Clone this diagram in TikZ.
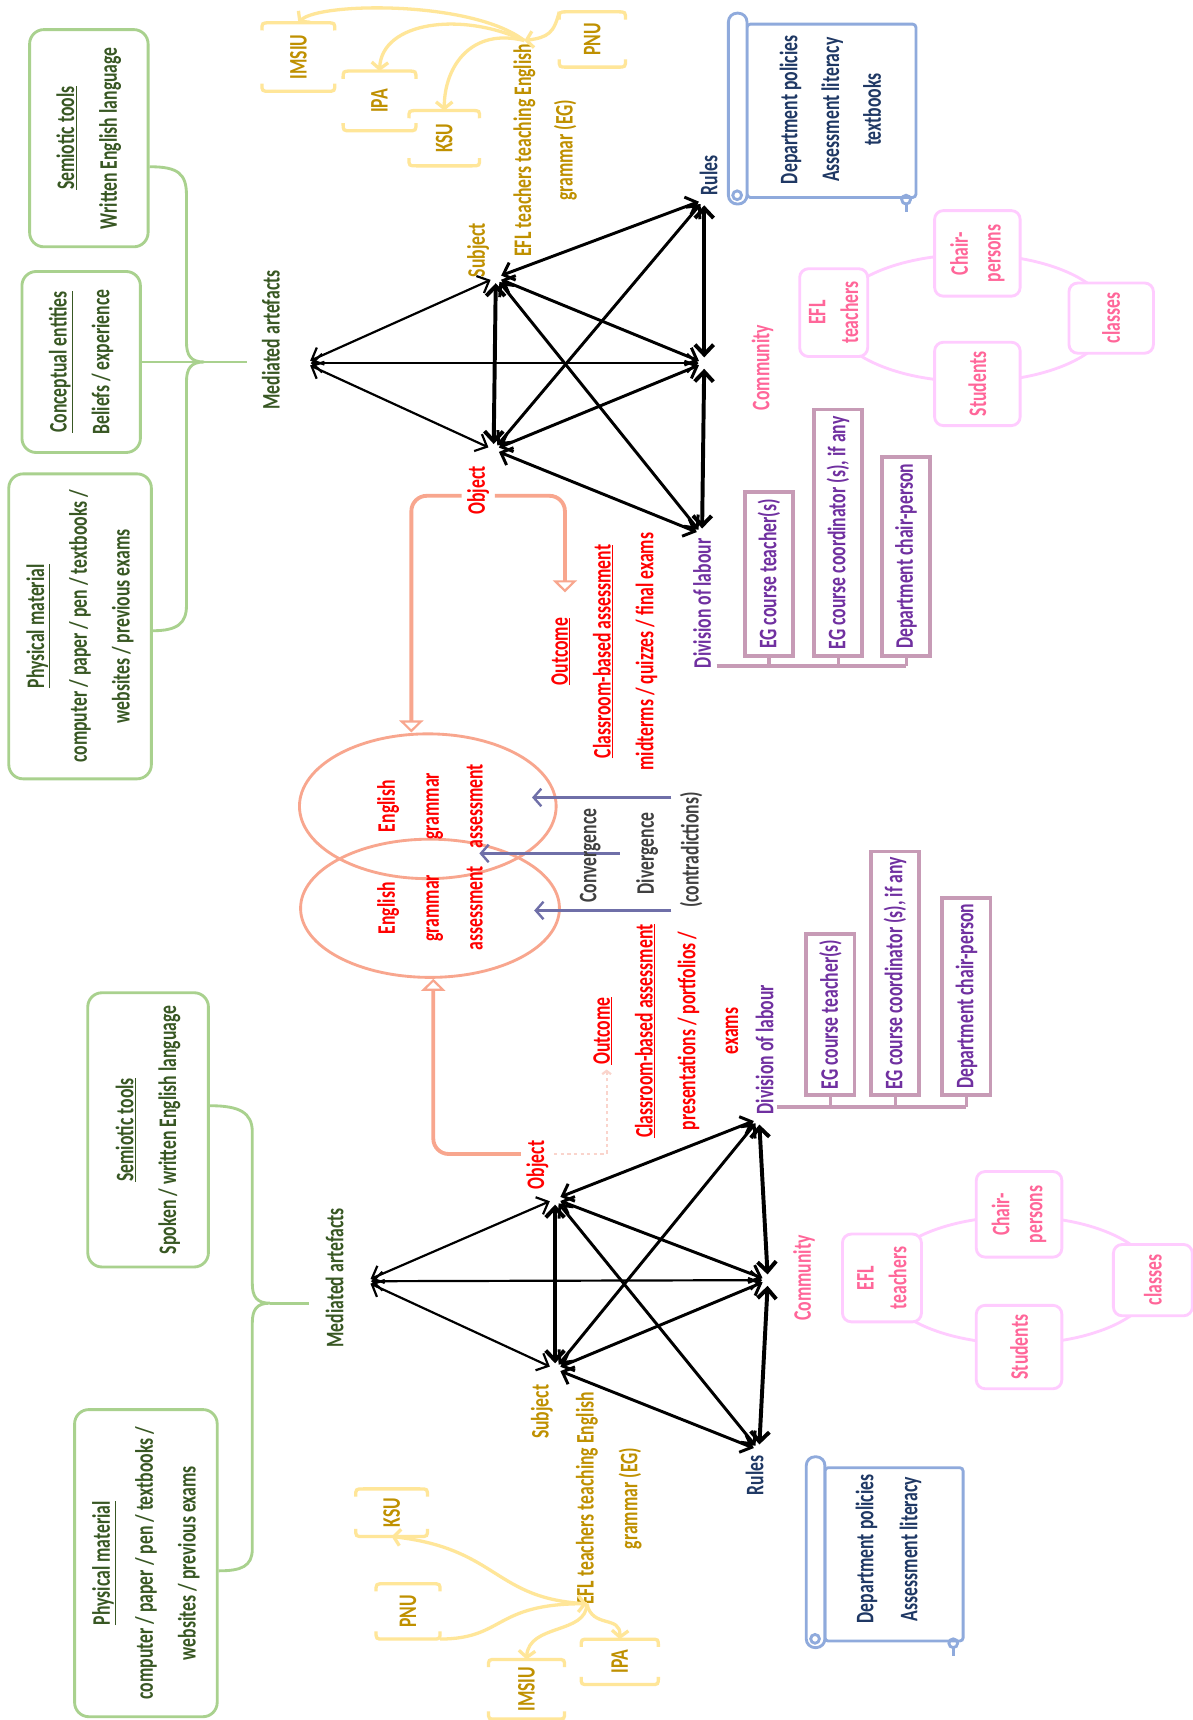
\documentclass[tikz,border=0pt]{standalone}
\usepackage{fontspec}
\setmainfont{Carlito}[FakeStretch=0.70, UprightFont=* Bold, BoldFont=* Bold]
\usetikzlibrary{arrows.meta,calc,shapes.geometric}

\definecolor{grbox}{HTML}{A9D18E}
\definecolor{grtxt}{HTML}{385723}
\definecolor{goldt}{HTML}{BF9000}
\definecolor{yell}{HTML}{FFE699}
\definecolor{redt}{HTML}{FF0000}
\definecolor{salm}{HTML}{F8A68E}
\definecolor{salmf}{HTML}{FAD4CC}
\definecolor{purt}{HTML}{7030A0}
\definecolor{mauve}{HTML}{C79BB6}
\definecolor{navyt}{HTML}{1F3864}
\definecolor{scrl}{HTML}{8FAADC}
\definecolor{pinkt}{HTML}{FF6699}
\definecolor{pinkl}{HTML}{FFCCFF}
\definecolor{slate}{HTML}{6F6FA8}
\definecolor{grayt}{HTML}{404040}

\newcommand\fsz[2]{\fontsize{#1}{#2}\selectfont}

% bracket-pair box around a rotated gold label
\newcommand\yelbox[6]{%
  \node[inner sep=0pt, minimum width=#4pt, minimum height=#5pt] (#1) at (#2,#3) {};
  \node[lab, text=goldt] (#1t) at (#1.center) {#6};
  \draw[ybr] ([yshift=-7pt]#1.north west) .. controls (#1.north west) .. ([xshift=7pt]#1.north west) -- ([xshift=-7pt]#1.north east) .. controls (#1.north east) .. ([yshift=-7pt]#1.north east);
  \draw[ybr] ([yshift=7pt]#1.south west) .. controls (#1.south west) .. ([xshift=7pt]#1.south west) -- ([xshift=-7pt]#1.south east) .. controls (#1.south east) .. ([yshift=7pt]#1.south east);
}

\begin{document}
\begin{tikzpicture}[x=1pt,y=-1pt,
  >={Straight Barb[length=9pt,width=17pt]},
  lab/.style={rotate=90, inner sep=1pt, align=center, font=\fsz{23}{38}},
  gbox/.style={rotate=90, draw=grbox, line width=2.6pt, rounded corners=13pt, align=center, text=grtxt, font=\fsz{23}{39}, inner sep=0pt},
  gline/.style={draw=grbox, line width=2.6pt},
  vtx/.style={circle, inner sep=0pt, minimum size=10pt},
  da/.style={<->, line width=2pt},
  daM/.style={<->, line width=2.7pt},
  daT/.style={<->, line width=3.6pt},
  dbox/.style={rotate=90, anchor=west, draw=mauve, line width=3.5pt, text=purt, font=\fsz{23}{26}, minimum height=44pt, inner sep=4pt},
  mline/.style={draw=mauve, line width=2.8pt},
  cbox/.style={rotate=90, draw=pinkl, line width=2.6pt, fill=white, rounded corners=8pt, text=pinkt, align=center, font=\fsz{23}{30}, inner sep=2pt},
  cring/.style={draw=pinkl, line width=2.6pt},
  ybr/.style={draw=yell, line width=3pt},
  yarr/.style={draw=yell, line width=3pt, -{Straight Barb[length=6pt,width=15pt]}},
  sarr/.style={draw=salm, line width=3.5pt, rounded corners=14pt, -{Triangle[open, length=11pt, width=22pt, line width=2pt]}},
  sdash/.style={draw=salmf, line width=2pt, dashed, -{Straight Barb[length=3pt,width=8pt]}},
  slarr/.style={draw=slate, line width=2.2pt, -{Straight Barb[length=7pt,width=16pt]}},
  ell/.style={draw=salm, ellipse, line width=2.6pt, inner sep=0pt},
  scr/.style={draw=scrl, line width=2.6pt}
]
\fill[white] (0,0) rectangle (1087,1568);
\useasboundingbox (0,0) rectangle (1087,1568);

% ================= Upper activity system =================
% mediating artefacts
\node[gbox, minimum width=198pt, minimum height=108pt] (tG1) at (81,126) {\underline{Semiotic tools}\\Written English language};
\node[gbox, minimum width=165pt, minimum height=108pt] (tG2) at (74,330) {\underline{Conceptual entities}\\Beliefs / experience};
\node[gbox, minimum width=278pt, minimum height=130pt] (tG3) at (73,571) {\underline{Physical material}\\computer / paper / pen / textbooks /\\websites / previous exams};
\draw[gline] ($(tG1.south)+(0,26)$) .. controls (162,152) and (170,158) .. (170,178) -- (170,312) .. controls (170,324) and (174,330) .. (186,330) .. controls (174,330) and (170,336) .. (170,348) -- (170,552) .. controls (170,568) and (162,575) .. ($(tG3.south)+(0,4)$);
\draw[gline] (tG2.south) -- (225,330);
\node[lab, text=grtxt] (tMAL) at (247,310) {Mediated artefacts};

% triangle vertices
\node[vtx] (tMA) at (278,331) {};
\node[vtx] (tSub) at (452,253) {};
\node[vtx] (tObj) at (450,410) {};
\node[vtx] (tRul) at (642,182) {};
\node[vtx] (tCom) at (642,331) {};
\node[vtx] (tDiv) at (640,487) {};

\draw[da] (tMA) -- (tSub);
\draw[da] (tMA) -- (tObj);
\draw[da] (tMA) -- (tCom);
\draw[daT] (tSub) -- (tObj);
\draw[daM] (tSub) -- (tRul);
\draw[daM] (tSub) -- (tCom);
\draw[daM] (tSub) -- (tDiv);
\draw[daM] (tObj) -- (tRul);
\draw[daM] (tObj) -- (tCom);
\draw[daM] (tObj) -- (tDiv);
\draw[daT] (tRul) -- (tCom);
\draw[daT] (tCom) -- (tDiv);

% vertex labels
\node[lab, text=goldt] (tSubL) at (436,228) {Subject};
\node[lab, text=goldt, font=\fsz{23}{38}] (tEFL) at (497,137) {EFL teachers teaching English\\grammar (EG)};
\node[lab, text=redt, font=\fsz{23}{24}] (tObjL) at (436,447) {Object};
\node[lab, text=navyt] (tRulL) at (646,160) {Rules};
\node[lab, text=pinkt] (tComL) at (695,335) {Community};
\node[lab, text=purt] (tDivL) at (640,550) {Division of labour};

% outcome
\node[lab, text=redt, font=\fsz{23}{39}] (tOut) at (551,594) {\underline{Outcome}\\\underline{Classroom-based assessment}\\midterms / quizzes / final exams};
\coordinate (tOutTip) at (515,540);
\draw[sarr] ($(tObjL.south)+(4,5)$) -| (tOutTip);

% shared object
\node[ell, minimum width=234pt, minimum height=132pt] (eT) at (390,735) {};
\node[ell, minimum width=236pt, minimum height=126pt] (eB) at (392,828) {};
\node[lab, text=redt, font=\fsz{23}{40}] (eTt) at (392,735) {English\\grammar\\assessment};
\node[lab, text=redt, font=\fsz{23}{40}] (eBt) at (392,828) {English\\grammar\\assessment};
\draw[sarr] ($(tObjL.north)+(-4,5)$) -| ($(eT.north)+(-15,0)$);

\coordinate (cv1) at (612,727);
\coordinate (cv2) at (565,778);
\coordinate (cv3) at (612,830);
\draw[slarr] (cv1) -- ($(eT.center)+(95,-8)$);
\draw[slarr] (cv2) -- ($(eT.center)+(47,43)$);
\draw[slarr] (cv3) -- ($(eB.center)+(95,2)$);
\node[lab, text=grayt] (cvL1) at (538,780) {Convergence};
\node[lab, text=grayt] (cvL2) at (590,778) {Divergence};
\node[lab, text=grayt] (cvL3) at (630,775) {(contradictions)};

% division of labour
\node[dbox, minimum width=150pt] (tD1) at (701,600) {EG course teacher(s)};
\node[dbox, minimum width=225pt] (tD2) at (764,600) {EG course coordinator (s), if any};
\node[dbox, minimum width=182pt] (tD3) at (826,600) {Department chair-person};
\coordinate (tDj) at ($(tDivL.south west)+(4,-3)$);
\draw[mline] (tDj) -- (tDj -| tD3.west);
\draw[mline] (tD1.west) -- (tD1.west |- tDj);
\draw[mline] (tD2.west) -- (tD2.west |- tDj);
\draw[mline] (tD3.west) -- (tD3.west |- tDj);

% rules scroll
\draw[scr, rounded corners=3pt] (681,22) rectangle (835,180);
\draw[scr, fill=white, rounded corners=8pt] (664,12) rectangle (681,186);
\draw[scr] (672,178) circle (4);
\draw[scr] (826,182) circle (4);
\draw[scr] (826,186) -- (826,193);
\node[lab, text=navyt] (tRulT) at (757,100) {Department policies\\Assessment literacy\\textbooks};

% community
\draw[cring] (886,290) ellipse [x radius=126, y radius=58];
\node[cbox, minimum width=80pt, minimum height=62pt] (tC1) at (760,285) {EFL\\teachers};
\node[cbox, minimum width=78pt, minimum height=78pt] (tC2) at (891,231) {Chair-\\persons};
\node[cbox, minimum width=64pt, minimum height=77pt] (tC3) at (1013,290) {classes};
\node[cbox, minimum width=76pt, minimum height=78pt] (tC4) at (891,350) {Students};

% universities
\yelbox{tIMS}{272}{52}{66}{62}{IMSIU}
\yelbox{tIPA}{346}{92}{66}{54}{IPA}
\yelbox{tKSU}{405}{126}{64}{50}{KSU}
\yelbox{tPNU}{540}{36}{60}{50}{PNU}
\coordinate (tEFLe) at (478,37);
\draw[yarr] (tEFLe) .. controls (430,0) and (290,2) .. (tIMS.north);
\draw[yarr] (tEFLe) .. controls (420,10) and (348,20) .. (tIPA.north);
\draw[yarr] (tEFLe) .. controls (430,25) and (405,60) .. (tKSU.north);
\draw[yarr] (tPNU.north west) .. controls (505,30) and (500,34) .. (tEFLe);

% ================= Lower activity system =================
\node[gbox, minimum width=250pt, minimum height=110pt] (bG1) at (135,1030) {\underline{Semiotic tools}\\Spoken / written English language};
\node[gbox, minimum width=280pt, minimum height=130pt] (bG2) at (133,1425) {\underline{Physical material}\\computer / paper / pen / textbooks /\\websites / previous exams};
\coordinate (bCusp) at (246,1188);
\draw[gline] ($(bG1.south)+(0,-22)$) .. controls (218,1008) and (230,1014) .. (230,1032) -- (230,1170) .. controls (230,1182) and (234,1188) .. (bCusp) .. controls (234,1188) and (230,1194) .. (230,1206) -- (230,1412) .. controls (230,1428) and (220,1432) .. ($(bG2.south)+(0,7)$);
\draw[gline] (bCusp) -- (282,1188);
\node[lab, text=grtxt] (bMAL) at (305,1165) {Mediated artefacts};

\node[vtx] (bMA) at (333,1168) {};
\node[vtx] (bObj) at (506,1093) {};
\node[vtx] (bSub) at (506,1248) {};
\node[vtx] (bDiv) at (692,1020) {};
\node[vtx] (bCom) at (700,1167) {};
\node[vtx] (bRul) at (692,1322) {};

\draw[da] (bMA) -- (bObj);
\draw[da] (bMA) -- (bSub);
\draw[da] (bMA) -- (bCom);
\draw[daT] (bObj) -- (bSub);
\draw[daM] (bObj) -- (bDiv);
\draw[daM] (bObj) -- (bCom);
\draw[daM] (bObj) -- (bRul);
\draw[daM] (bSub) -- (bDiv);
\draw[daM] (bSub) -- (bCom);
\draw[daM] (bSub) -- (bRul);
\draw[daT] (bDiv) -- (bCom);
\draw[daT] (bCom) -- (bRul);

\node[lab, text=redt, font=\fsz{23}{24}] (bObjL) at (490,1062) {Object};
\node[lab, text=goldt] (bSubL) at (494,1287) {Subject};
\node[lab, text=goldt, font=\fsz{23}{40}] (bEFL) at (555,1366) {EFL teachers teaching English\\grammar (EG)};
\node[lab, text=purt] (bDivL) at (697,957) {Division of labour};
\node[lab, text=pinkt] (bComL) at (733,1165) {Community};
\node[lab, text=navyt] (bRulL) at (688,1345) {Rules};

\node[lab, text=redt, font=\fsz{23}{39}] (bOut) at (607,940) {\underline{Outcome}\\\underline{Classroom-based assessment}\\presentations / portfolios /\\exams};
\coordinate (bOutTip) at (553,975);
\draw[sdash] ($(bObjL.south)+(4,-10)$) -| (bOutTip);
\draw[sarr] ($(bObjL.north)+(-4,-10)$) -| ($(eB.south)+(3,0)$);

\node[dbox, minimum width=147pt] (bD1) at (757,1000) {EG course teacher(s)};
\node[dbox, minimum width=222pt] (bD2) at (816,1000) {EG course coordinator (s), if any};
\node[dbox, minimum width=180pt] (bD3) at (881,1000) {Department chair-person};
\coordinate (bDj) at ($(bDivL.south west)+(2,-8)$);
\draw[mline] (bDj) -- (bDj -| bD3.west);
\draw[mline] (bD1.west) -- (bD1.west |- bDj);
\draw[mline] (bD2.west) -- (bD2.west |- bDj);
\draw[mline] (bD3.west) -- (bD3.west |- bDj);

\draw[scr, rounded corners=3pt] (752,1338) rectangle (878,1496);
\draw[scr, fill=white, rounded corners=8pt] (735,1328) rectangle (752,1502);
\draw[scr] (743,1494) circle (4);
\draw[scr] (869,1498) circle (4);
\draw[scr] (869,1502) -- (869,1510);
\node[lab, text=navyt, font=\fsz{23}{40}] (bRulT) at (810,1412) {Department policies\\Assessment literacy};

\draw[cring] (928,1167) ellipse [x radius=124, y radius=58];
\node[cbox, minimum width=80pt, minimum height=72pt] (bC1) at (804,1165) {EFL\\teachers};
\node[cbox, minimum width=78pt, minimum height=78pt] (bC2) at (929,1107) {Chair-\\persons};
\node[cbox, minimum width=65pt, minimum height=72pt] (bC3) at (1051,1167) {classes};
\node[cbox, minimum width=76pt, minimum height=78pt] (bC4) at (929,1228) {Students};

\yelbox{bKSU}{357}{1379}{65}{43}{KSU}
\yelbox{bPNU}{372}{1469}{58}{50}{PNU}
\yelbox{bIMS}{480}{1540}{69}{54}{IMSIU}
\yelbox{bIPA}{565}{1515}{70}{41}{IPA}
\coordinate (bEFLe) at (535,1462);
\draw[yarr] (bEFLe) .. controls (450,1458) and (455,1412) .. (bKSU.south);
\draw[yarr] (bPNU.south east) .. controls (460,1494) and (450,1462) .. (bEFLe);
\draw[yarr] (bEFLe) .. controls (535,1490) and (482,1480) .. (bIMS.north);
\draw[yarr] (bEFLe) .. controls (540,1485) and (566,1472) .. (bIPA.north);
\end{tikzpicture}
\end{document}
